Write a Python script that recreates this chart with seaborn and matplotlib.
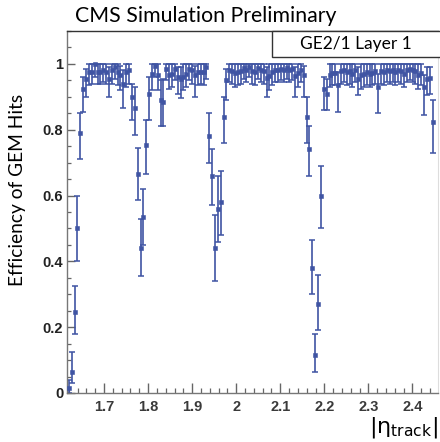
import numpy as np
import pandas as pd
import matplotlib
matplotlib.use("Agg")
import matplotlib.pyplot as plt
from matplotlib.ticker import MultipleLocator, FormatStrFormatter
from matplotlib.patches import Rectangle
import seaborn as sns

# ---- data ----
bin_start = 1.617      # lower edge of first |eta| bin
bin_width = 0.0065     # |eta| bin width
n_bins = 128

eff = [
    # segment 1
    0.015, 0.065, 0.245, 0.50, 0.79, 0.925, 0.955, 0.975, 0.975, 1.0, 0.975,
    0.975, 0.98, 0.975, 0.955, 0.98, 0.99, 0.975, 0.965, 0.94, 0.975, 0.98,
    # gap 1
    0.90, 0.865, 0.665, 0.44, 0.535, 0.755, 0.91,
    # segment 2
    0.97, 0.995, 0.965, 0.89, 0.885, 0.985, 0.965, 0.97, 0.985, 0.96,
    0.955, 0.96, 0.97, 0.985, 0.98, 0.965, 0.975, 0.975, 0.975, 0.99,
    # gap 2
    0.78, 0.66, 0.44, 0.56, 0.58, 0.84, 0.95,
    # segment 3
    0.98, 0.977, 0.972, 0.975, 0.977, 0.987, 0.98, 0.992, 0.977, 0.975,
    0.987, 0.98, 0.977, 0.957, 0.964, 0.975, 0.982, 0.98, 0.985, 0.982,
    0.987, 0.982, 0.984, 0.962, 0.972, 0.98, 0.967,
    # gap 3
    0.84, 0.74, 0.38, 0.115, 0.27, 0.60, 0.925, 0.91,
    # segment 4
    0.967, 0.972, 0.972, 0.937, 0.977, 0.982, 0.974, 0.977, 0.97, 0.982,
    0.953, 0.967, 0.97, 0.974, 0.97, 0.972, 0.977, 0.931, 0.977, 0.974,
    0.98, 0.977, 0.98, 0.974, 0.982, 0.977, 0.97, 0.98, 0.984, 0.98,
    0.977, 0.967, 0.972, 0.931, 0.953, 0.957, 0.825,
]

eff_low = [
    0.0, 0.03, 0.18, 0.40, 0.71, 0.855, 0.90, 0.935, 0.94, 0.96, 0.94,
    0.94, 0.945, 0.94, 0.90, 0.94, 0.955, 0.935, 0.92, 0.865, 0.93, 0.94,
    0.83, 0.785, 0.585, 0.355, 0.45, 0.665, 0.83,
    0.92, 0.96, 0.92, 0.81, 0.81, 0.95, 0.925, 0.93, 0.95, 0.91,
    0.895, 0.92, 0.93, 0.95, 0.94, 0.90, 0.935, 0.94, 0.935, 0.955,
    0.70, 0.57, 0.34, 0.46, 0.48, 0.76, 0.89,
    0.945, 0.94, 0.93, 0.935, 0.94, 0.955, 0.945, 0.96, 0.94, 0.935,
    0.955, 0.945, 0.94, 0.90, 0.92, 0.935, 0.945, 0.945, 0.95, 0.945,
    0.955, 0.945, 0.95, 0.90, 0.93, 0.945, 0.90,
    0.76, 0.66, 0.30, 0.065, 0.19, 0.50, 0.86, 0.86,
    0.93, 0.935, 0.935, 0.855, 0.94, 0.945, 0.935, 0.94, 0.93, 0.945,
    0.905, 0.925, 0.93, 0.935, 0.93, 0.935, 0.94, 0.85, 0.94, 0.935,
    0.945, 0.94, 0.945, 0.935, 0.945, 0.94, 0.93, 0.945, 0.95, 0.945,
    0.94, 0.925, 0.935, 0.845, 0.905, 0.91, 0.73,
]

eff_high = [
    0.04, 0.125, 0.325, 0.60, 0.85, 0.96, 0.985, 1.0, 1.0, 1.0, 1.0,
    1.0, 1.0, 1.0, 0.99, 1.0, 1.0, 1.0, 0.995, 0.98, 1.0, 1.0,
    0.94, 0.93, 0.745, 0.53, 0.62, 0.83, 0.96,
    1.0, 1.0, 1.0, 0.95, 0.955, 1.0, 1.0, 1.0, 1.0, 0.99,
    0.99, 1.0, 1.0, 1.0, 1.0, 0.995, 1.0, 1.0, 1.0, 1.0,
    0.85, 0.74, 0.54, 0.66, 0.675, 0.90, 0.985,
    1.0, 1.0, 1.0, 1.0, 1.0, 1.0, 1.0, 1.0, 1.0, 1.0,
    1.0, 1.0, 1.0, 0.99, 1.0, 1.0, 1.0, 1.0, 1.0, 1.0,
    1.0, 1.0, 1.0, 0.99, 1.0, 1.0, 0.995,
    0.90, 0.81, 0.465, 0.18, 0.36, 0.69, 0.96, 0.955,
    1.0, 1.0, 1.0, 0.975, 1.0, 1.0, 1.0, 1.0, 1.0, 1.0,
    0.99, 1.0, 1.0, 1.0, 1.0, 1.0, 1.0, 0.97, 1.0, 1.0,
    1.0, 1.0, 1.0, 1.0, 1.0, 1.0, 1.0, 1.0, 1.0, 1.0,
    1.0, 1.0, 1.0, 0.965, 0.99, 0.99, 0.89,
]

x_ticks = [1.7, 1.8, 1.9, 2.0, 2.1, 2.2, 2.3, 2.4]
y_ticks = [0, 0.2, 0.4, 0.6, 0.8, 1.0]

title_text = "CMS Simulation Preliminary"
legend_text = "GE2/1 Layer 1"
ylabel_text = "Efficiency of GEM Hits"
xlabel_text = r"$|\mathrm{\eta}_{\mathrm{track}}|$"

# ---- build table ----
edges = bin_start + bin_width * np.arange(n_bins + 1)
eta = 0.5 * (edges[:-1] + edges[1:])
df = pd.DataFrame({"eta": eta, "eff": eff, "lo": eff_low, "hi": eff_high})

sns.set_style("ticks")
plt.rcParams["font.family"] = ["Lato", "DejaVu Sans"]

blue = "#3f54a3"

fig = plt.figure(figsize=(4.4, 4.42), dpi=100)
W, H = 440, 442
ax = fig.add_axes([67.3 / W, 1 - 393 / H, (438 - 67.3) / W, (393 - 31) / H])

ax.errorbar(df["eta"], df["eff"],
            yerr=[df["eff"] - df["lo"], df["hi"] - df["eff"]],
            fmt="none", ecolor=blue, elinewidth=1.2, capsize=1.9,
            capthick=1.1, zorder=2)
sns.scatterplot(data=df, x="eta", y="eff", marker="s", s=10, color=blue,
                edgecolor=blue, linewidth=0.4, ax=ax, zorder=3, legend=False)

ax.set_xlim(1.6166, 2.458)
ax.set_ylim(0, 1.10)
ax.set_xlabel("")
ax.set_ylabel("")

ax.xaxis.set_major_locator(MultipleLocator(0.1))
ax.xaxis.set_minor_locator(MultipleLocator(0.02))
ax.yaxis.set_major_locator(MultipleLocator(0.2))
ax.yaxis.set_minor_locator(MultipleLocator(0.05))
ax.set_xticks(x_ticks)
ax.set_yticks(y_ticks)
ax.xaxis.set_major_formatter(FormatStrFormatter("%g"))
ax.yaxis.set_major_formatter(FormatStrFormatter("%g"))

ax.tick_params(axis="both", which="both", direction="in", color="#666666",
               top=False, right=False)
ax.tick_params(axis="x", which="major", length=7, width=1.0, pad=5)
ax.tick_params(axis="x", which="minor", length=3.5, width=0.9)
ax.tick_params(axis="y", which="major", length=5.5, width=1.0, pad=3)
ax.tick_params(axis="y", which="minor", length=3, width=0.9)

for lab in ax.get_xticklabels():
    lab.set_fontfamily("Liberation Sans")
    lab.set_fontweight("bold")
    lab.set_fontsize(10.5)
    lab.set_color("#3a3a3a")
for lab in ax.get_yticklabels():
    lab.set_fontfamily("Liberation Sans")
    lab.set_fontweight("bold")
    lab.set_fontsize(10.5)
    lab.set_color("#222222")

for side in ["left", "bottom"]:
    ax.spines[side].set_color("#777777")
    ax.spines[side].set_linewidth(1.0)
ax.spines["top"].set_color("#333333")
ax.spines["top"].set_linewidth(1.0)
ax.spines["right"].set_color("#dddddd")
ax.spines["right"].set_linewidth(0.8)

# title
fig.text(75 / W, 1 - 16 / H, title_text, fontsize=15.3, ha="left",
         va="center", color="black")
# y label
fig.text(18 / W, 1 - 190 / H, ylabel_text, fontsize=13.8, rotation=90,
         ha="center", va="center", color="black")
# x label
fig.text(438 / W, 1 - 427 / H, xlabel_text, fontsize=16, ha="right",
         va="center", color="black")

# legend-like box
rect = Rectangle((272 / W, 1 - 57 / H), (W + 5 - 272) / W, 26 / H,
                 transform=fig.transFigure, facecolor="white",
                 edgecolor="#333333", linewidth=1.0, zorder=5)
fig.patches.append(rect)
fig.text(356 / W, 1 - 44.5 / H, legend_text, fontsize=12.5, ha="center",
         va="center", color="black", zorder=6)

fig.savefig("out.png", dpi=100)
